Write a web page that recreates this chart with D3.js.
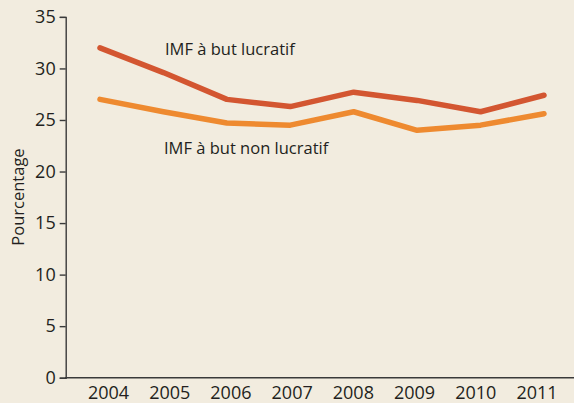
<!DOCTYPE html>
<html>
<head>
<meta charset="utf-8">
<script src="https://cdn.jsdelivr.net/npm/d3@7"></script>
<style>
  body { margin: 0; background: #f2ecdf; }
  svg { display: block; font-family: "Open Sans", sans-serif; }
</style>
</head>
<body>
<svg></svg>
<script>
var years = ["2004", "2005", "2006", "2007", "2008", "2009", "2010", "2011"];
var lucratif = [32.0, 29.6, 27.0, 26.3, 27.7, 26.9, 25.8, 27.4];
var nonLucratif = [27.0, 25.8, 24.7, 24.5, 25.8, 24.0, 24.5, 25.6];
var yTicks = [0, 5, 10, 15, 20, 25, 30, 35];

var svgWidth = 574;
var svgHeight = 403;

var svg = d3.select('svg')
    .attr('width', svgWidth)
    .attr('height', svgHeight);

svg.append('rect')
    .attr('width', svgWidth)
    .attr('height', svgHeight)
    .attr('fill', '#f2ecdf');

var y = d3.scaleLinear().domain([0, 35]).range([377.7, 16.9]);
// points of the lines and the year labels are not quite aligned in the original
var xLine = d3.scalePoint().domain(years).range([100, 544]);
var xLabel = d3.scalePoint().domain(years).range([108.5, 537]);

// y axis
var yAxis = svg.append('g')
    .attr('transform', 'translate(65.7,0)')
    .call(d3.axisLeft(y).tickValues(yTicks).tickSize(6).tickPadding(4));
yAxis.select('.domain').attr('stroke', '#3a3a3a').attr('stroke-width', 1.4);
yAxis.selectAll('.tick line').attr('stroke', '#3a3a3a').attr('stroke-width', 1.4);
yAxis.selectAll('.tick text')
    .attr('fill', '#231f20')
    .style('font-size', '18px')
    .style('font-family', '"Open Sans", sans-serif');

// x axis: plain line plus year labels
svg.append('line')
    .attr('x1', 65).attr('x2', svgWidth)
    .attr('y1', y(0)).attr('y2', y(0))
    .attr('stroke', '#3a3a3a')
    .attr('stroke-width', 1.4);

svg.selectAll('.year')
    .data(years)
    .enter()
    .append('text')
    .attr('class', 'year')
    .attr('x', function(d) { return xLabel(d); })
    .attr('y', 399)
    .attr('text-anchor', 'middle')
    .attr('fill', '#231f20')
    .style('font-size', '18px')
    .text(function(d) { return d; });

svg.append('text')
    .attr('transform', 'translate(24,197) rotate(-90)')
    .attr('text-anchor', 'middle')
    .attr('fill', '#231f20')
    .style('font-size', '16.5px')
    .text('Pourcentage');

var line = d3.line()
    .x(function(d, i) { return xLine(years[i]); })
    .y(function(d) { return y(d); });

svg.append('path')
    .datum(nonLucratif)
    .attr('d', line)
    .attr('fill', 'none')
    .attr('stroke', '#ee8a30')
    .attr('stroke-width', 5.5)
    .attr('stroke-linecap', 'round')
    .attr('stroke-linejoin', 'round');

svg.append('path')
    .datum(lucratif)
    .attr('d', line)
    .attr('fill', 'none')
    .attr('stroke', '#d35631')
    .attr('stroke-width', 5.5)
    .attr('stroke-linecap', 'round')
    .attr('stroke-linejoin', 'round');

svg.append('text')
    .attr('x', 165).attr('y', 55)
    .attr('fill', '#231f20')
    .style('font-size', '16.5px')
    .text('IMF à but lucratif');

svg.append('text')
    .attr('x', 164).attr('y', 154)
    .attr('fill', '#231f20')
    .style('font-size', '16.5px')
    .text('IMF à but non lucratif');
</script>
</body>
</html>
